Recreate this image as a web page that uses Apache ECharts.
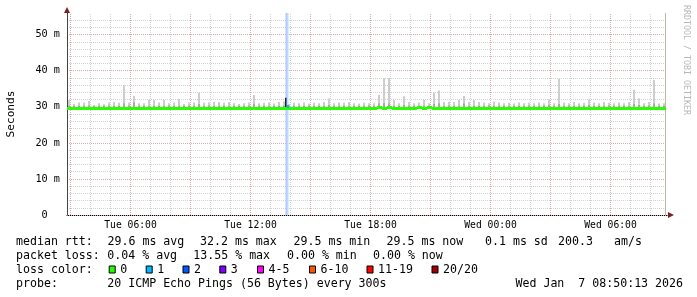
<!DOCTYPE html>
<html><head><meta charset="utf-8">
<script src="https://cdn.jsdelivr.net/npm/echarts@6/dist/echarts.min.js"></script>
<style>html,body{margin:0;padding:0;background:#fff}#c{width:697px;height:297px}</style>
</head><body><div id="c"></div>
<script>
// ---- time axis (minutes since Tue 00:00) ----
const axisStart = 169.5;    // Tue 02:50
const axisEnd = 1969.5;     // Wed 08:50
const dataEnd = 1965;       // last data
const slotStart = 170;
const slotMinutes = 15;
const timeTicks = [360, 720, 1080, 1440, 1800];
const timeLabels = ['Tue 06:00', 'Tue 12:00', 'Tue 18:00', 'Wed 00:00', 'Wed 06:00'];
const yTickLabels = ['0  ', '10 m', '20 m', '30 m', '40 m', '50 m'];

// ---- median rtt per slot (ms) ----
const median = [
29.6,29.6,29.6,29.6,29.6,29.6,29.6,29.6,29.6,29.6,
29.6,29.6,29.6,29.6,29.6,29.6,29.6,29.6,29.6,29.6,
29.6,29.6,29.6,29.6,29.6,29.6,29.6,29.6,29.6,29.6,
29.6,29.6,29.6,29.6,29.6,29.6,29.6,29.6,29.6,29.6,
29.6,29.6,29.6,29.6,29.4,29.6,29.6,29.6,29.6,29.5,
29.6,29.6,29.6,29.6,29.5,29.6,29.6,29.6,29.6,29.6,
29.6,29.6,29.7,29.6,29.7,29.6,29.6,29.6,29.6,29.6,
29.7,29.6,29.7,29.6,29.6,29.6,29.6,29.6,29.6,29.6,
29.6,29.6,29.6,29.6,29.6,29.6,29.6,29.6,29.6,29.6,
29.6,29.5,29.5,29.5,29.5,29.5,29.5,29.5,29.5,29.5,
29.5,29.5,29.5,29.5,29.5,29.5,29.5,29.5,29.5,29.5,
29.5,29.5,29.5,29.5,29.5,29.5,29.5,29.5,29.5,29.5
];
// ---- smoke: top of darker band and top of light band (ms) ----
const smokeMid = [
30.3,30.3,30.3,30.3,30.3,30.3,30.3,30.3,30.3,30.3,
30.3,31.0,30.3,31.2,30.3,30.3,30.3,30.3,30.3,30.3,
30.3,30.3,30.3,30.3,30.3,30.3,30.8,30.3,30.3,30.3,
30.3,30.3,30.3,30.3,30.3,30.3,30.3,30.8,30.3,30.3,
30.3,30.3,30.3,30.3,30.3,30.3,30.3,30.3,30.3,30.3,
30.3,30.3,30.5,30.3,30.3,30.3,30.3,30.3,30.3,30.3,
30.3,30.3,30.9,31.0,30.9,30.3,30.3,30.5,30.3,30.3,
30.3,30.3,30.3,30.8,31.0,30.3,30.3,30.3,30.3,30.9,
30.3,30.3,30.3,30.3,30.3,30.3,30.3,30.3,30.3,30.3,
30.3,30.3,30.3,30.3,30.3,30.3,30.5,30.3,30.8,30.3,
30.3,30.3,30.3,30.3,30.5,30.3,30.3,30.3,30.3,30.3,
30.3,30.3,30.3,30.8,30.5,30.3,30.3,30.9,30.3,30.3
];
const smokeHigh = [
31.9,30.8,31.2,31.2,31.6,30.4,31.0,30.7,31.2,31.3,
31.1,36.0,31.2,33.0,31.0,31.0,31.9,31.9,31.2,31.9,
31.0,31.2,32.2,30.8,31.2,31.2,33.9,31.1,31.2,31.3,
31.3,31.1,31.3,31.0,30.8,31.0,31.2,33.3,31.0,31.1,
31.2,30.9,31.3,31.5,30.8,31.1,31.0,31.2,30.9,31.1,
31.0,31.3,32.3,31.0,31.2,31.1,31.3,31.0,30.9,31.1,
31.0,31.0,33.3,38.0,38.0,31.9,31.0,32.9,31.3,31.0,
31.2,31.9,31.0,33.9,34.5,31.3,31.4,31.3,31.9,33.0,
31.4,31.9,31.3,31.2,31.0,31.5,31.2,31.0,31.1,30.9,
31.2,31.0,31.1,31.0,31.2,31.0,32.1,31.0,37.7,31.2,
31.0,31.3,31.0,31.1,32.0,31.2,31.0,31.3,31.1,31.0,
31.2,31.0,31.3,34.7,32.4,31.0,31.3,37.4,30.9,31.0
];
// ---- loss event ----
const lossStart = [825, 829];
const lossEnd = [829, 834];
const lossLevel = ['3', '1'];
const lossMedianTime = [829];
const lossMedianValue = [30.1];
const darkSmokeTime = [822];
const darkSmokeLow = [29.7];
const darkSmokeHigh = [32.5];

const LOSS_NAMES = ['0', '1', '2', '3', '4-5', '6-10', '11-19', '20/20'];
const LOSS_COLORS = ['#26ff00', '#00b8ff', '#0059ff', '#7e00ff', '#ff00ff', '#ff5500', '#ff0000', '#a10000'];
const LOSS_BG = {'1': '#a6e4ff', '3': '#c4b4ff'};
const LEGEND_X = [108.7, 145.7, 182.5, 219.3, 257, 309, 366.5, 431.5];

const MONO = 'DejaVu Sans Mono';
const ARROW = '#7f1f1f';
const MINOR = '#d2d2d2';
const MAJOR = '#dcaaaa';

// ---- build data ----
const medianData = median.map((v, i) => [slotStart + i * slotMinutes, v, slotMinutes]);
const smokeData = median.map((v, i) => [slotStart + i * slotMinutes, v, smokeMid[i], smokeHigh[i]]);
const lossMedianData = lossMedianTime.map((t, i) => [t, lossMedianValue[i], lossEnd[1] - lossStart[1]]);
const darkSmokeData = darkSmokeTime.map((t, i) => [t, darkSmokeLow[i], darkSmokeHigh[i]]);

const gridHours = [];
for (let m = 180; m < axisEnd; m += 60) gridHours.push(m);

function renderMedian(params, api) {
  const t = api.value(0), v = api.value(1);
  const t2 = Math.min(t + api.value(2), dataEnd);
  const p0 = api.coord([t, v]), p1 = api.coord([t2, v]);
  const x0 = Math.round(p0[0]), x1 = Math.round(p1[0]);
  return {type: 'rect', shape: {x: x0, y: Math.round(p0[1] - 1.5), width: x1 - x0, height: 3},
          style: {fill: api.visual('color')}};
}
function renderSmoke(params, api) {
  const t = api.value(0);
  const pB = api.coord([t, api.value(1)]), pM = api.coord([t, api.value(2)]), pH = api.coord([t, api.value(3)]);
  const x = Math.round(pB[0]) + 1;
  return {type: 'group', children: [
    {type: 'rect', shape: {x: x, y: pH[1], width: 2, height: pB[1] - pH[1]}, style: {fill: '#cdcdcd'}},
    {type: 'rect', shape: {x: x, y: pM[1], width: 2, height: pB[1] - pM[1]}, style: {fill: '#a8a8a8'}}
  ]};
}
function renderDark(params, api) {
  const t = api.value(0);
  const pL = api.coord([t, api.value(1)]), pH = api.coord([t, api.value(2)]);
  return {type: 'rect', shape: {x: Math.round(pL[0]), y: pH[1], width: 1.5, height: pL[1] - pH[1]}, style: {fill: '#202030'}};
}
const empty = () => null;

const series = [];
series.push({
  type: 'custom', name: 'grid', z: 1, data: [], renderItem: empty, silent: true,
  markLine: {
    silent: true, symbol: ['none', 'none'], label: {show: false}, animation: false,
    data: gridHours.map(m => ({xAxis: m, lineStyle: {color: (m % 180 === 0) ? MAJOR : MINOR, type: [1, 1], width: 1}}))
      .concat([{xAxis: dataEnd, lineStyle: {color: '#bdb8a2', type: 'solid', width: 1}}])
  }
});
LOSS_NAMES.forEach((name, i) => {
  const s = {type: 'custom', name: name, color: LOSS_COLORS[i], itemStyle: {color: LOSS_COLORS[i]},
             z: 3, data: [], renderItem: empty, clip: true};
  if (i === 0) { s.data = medianData; s.renderItem = renderMedian; s.z = 6; s.encode = {x: 0, y: 1}; }
  const areas = [];
  lossLevel.forEach((lv, k) => { if (lv === name) areas.push([{xAxis: lossStart[k]}, {xAxis: lossEnd[k]}]); });
  if (areas.length) s.markArea = {silent: true, itemStyle: {color: LOSS_BG[name], opacity: 1}, data: areas};
  series.push(s);
});
series.push({type: 'custom', name: 'smoke', z: 4, data: smokeData, renderItem: renderSmoke, clip: true, encode: {x: 0, y: 3}, silent: true});
series.push({type: 'custom', name: 'darksmoke', z: 5, data: darkSmokeData, renderItem: renderDark, clip: true, encode: {x: 0, y: 2}, silent: true});
series.push({type: 'custom', name: 'lossmedian', z: 7, itemStyle: {color: LOSS_COLORS[1]}, data: lossMedianData, renderItem: renderMedian, clip: true, encode: {x: 0, y: 1}, silent: true});

// ---- legend text ----
const LF = '11.6px "' + MONO + '"';
function txt(s, x, y, align) {
  return {type: 'text', x: x, y: y, silent: true,
          style: {text: s, font: LF, fill: '#000', align: align || 'left', verticalAlign: 'middle'}};
}
const row1 = ['median rtt:', '29.6 ms avg', '32.2 ms max', '29.5 ms min', '29.5 ms now', '0.1 ms sd', '200.3', 'am/s'];
const row1x = [16, 107.5, 200, 293.5, 386.5, 485, 558, 614];
const row2 = ['packet loss:', '0.04 % avg', '13.55 % max', '0.00 % min', '0.00 % now'];
const row2x = [16, 107.3, 193.3, 287, 373];
const graphics = [];
row1.forEach((s, i) => graphics.push(txt(s, row1x[i], 242)));
row2.forEach((s, i) => graphics.push(txt(s, row2x[i], 256)));
graphics.push(txt('loss color:', 16, 269.5));
graphics.push(txt('probe:', 16, 284));
graphics.push(txt('20 ICMP Echo Pings (56 Bytes) every 300s', 107.3, 284));
graphics.push(txt('Wed Jan  7 08:50:13 2026', 683, 284, 'right'));
graphics.push({type: 'text', x: 686, y: 5, rotation: -Math.PI / 2, silent: true,
  style: {text: 'RRDTOOL / TOBI OETIKER', font: '8.3px "' + MONO + '"', fill: '#b8b8b8', align: 'left', verticalAlign: 'middle'}});

const legendText = {fontFamily: MONO, fontSize: 11.6, color: '#000'};
const legends = LOSS_NAMES.map((n, i) => ({
  left: LEGEND_X[i], top: 263.5, padding: 0, icon: 'rect', itemWidth: 6, itemHeight: 7, itemTextGap: 9,
  selectedMode: false, textStyle: legendText,
  itemStyle: {borderColor: '#000', borderWidth: 1},
  data: [{name: n, textStyle: legendText, itemStyle: {color: LOSS_COLORS[i], borderColor: '#000', borderWidth: 1}}]
}));

const option = {
  animation: false,
  backgroundColor: '#ffffff',
  textStyle: {fontFamily: MONO},
  grid: {left: 67, top: 13, width: 600, height: 202, containLabel: false, outerBoundsMode: 'none'},
  xAxis: [
    {type: 'value', min: axisStart, max: axisEnd, position: 'bottom',
     axisLine: {show: true, onZero: false, lineStyle: {color: '#000', width: 1}},
     axisTick: {show: false}, splitLine: {show: false},
     axisLabel: {customValues: timeTicks, formatter: v => timeLabels[timeTicks.indexOf(v)] || '',
                 fontFamily: MONO, fontSize: 9.7, color: '#000', margin: 5}},
    {type: 'value', min: axisStart, max: axisEnd, position: 'bottom', offset: 0,
     axisLine: {show: true, onZero: false, symbol: ['none', 'triangle'], symbolSize: [6, 6], symbolOffset: [0, 4],
                lineStyle: {color: ARROW, width: 0}},
     axisTick: {show: false}, axisLabel: {show: false}, splitLine: {show: false}}
  ],
  yAxis: [
    {type: 'value', min: 0, max: 56, interval: 10, position: 'left', z: 1,
     name: 'Seconds', nameLocation: 'middle', nameRotate: 90, nameGap: 50,
     nameTextStyle: {fontFamily: MONO, fontSize: 11.1, color: '#000'},
     axisLine: {show: true, onZero: false, lineStyle: {color: '#444', width: 1}},
     axisTick: {show: false},
     splitLine: {show: true, showMaxLine: false, lineStyle: {color: MAJOR, type: [1, 1], width: 1}},
     axisLabel: {formatter: v => yTickLabels[v / 10] || '', fontFamily: MONO, fontSize: 10.2, color: '#000', margin: 7}},
    {type: 'value', min: 0, max: 56, interval: 2, position: 'left', offset: 0, z: 0,
     axisLine: {show: false}, axisTick: {show: false}, axisLabel: {show: false},
     splitLine: {show: true, showMaxLine: false, lineStyle: {color: MINOR, type: [1, 1], width: 1}}},
    {type: 'value', min: 0, max: 56, position: 'left', offset: 0,
     axisLine: {show: true, onZero: false, symbol: ['none', 'triangle'], symbolSize: [6, 6], symbolOffset: [0, 3],
                lineStyle: {color: ARROW, width: 0}},
     axisTick: {show: false}, axisLabel: {show: false}, splitLine: {show: false}}
  ],
  legend: legends,
  graphic: graphics,
  series: series
};
const chart = echarts.init(document.getElementById('c'), null, {renderer: 'canvas'});
chart.setOption(option);
</script></body></html>
